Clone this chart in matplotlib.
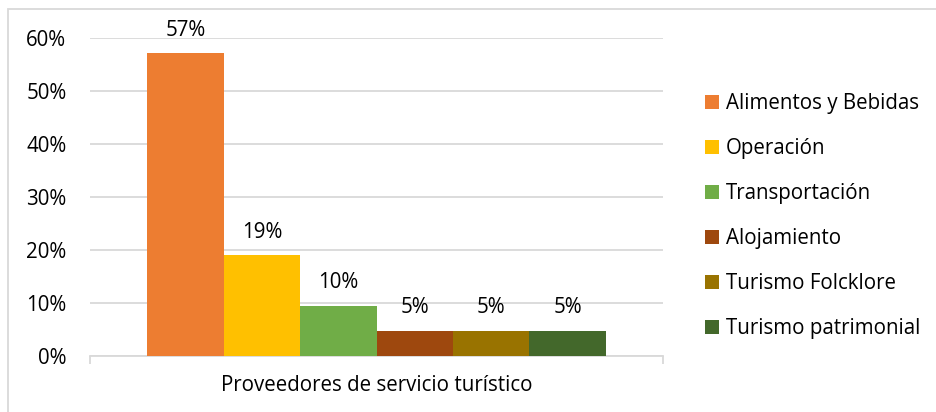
import matplotlib
matplotlib.use("Agg")
import matplotlib.pyplot as plt
from matplotlib.patches import Rectangle, Patch

plt.rcParams['font.family'] = ['Open Sans', 'DejaVu Sans']

category = "Proveedores de servicio turístico"
series = ["Alimentos y Bebidas", "Operación", "Transportación", "Alojamiento",
          "Turismo Folcklore", "Turismo patrimonial"]
values = [0.571, 0.190, 0.095, 0.048, 0.048, 0.048]
labels = ["57%", "19%", "10%", "5%", "5%", "5%"]
colors = ["#ED7D31", "#FFC000", "#70AD47", "#9E480E", "#997300", "#43682B"]
yticks = [0, 0.1, 0.2, 0.3, 0.4, 0.5, 0.6]
ytick_labels = ["0%", "10%", "20%", "30%", "40%", "50%", "60%"]

FS = 14.8
W, H = 936, 412
fig = plt.figure(figsize=(W / 100, H / 100), dpi=100)
fig.patches.append(Rectangle((8 / W, -0.1), 1.2, 1 - 9 / H + 0.1, transform=fig.transFigure,
                             fill=False, edgecolor="#D9D9D9", linewidth=1.3))
ax = fig.add_axes([90 / W, 1 - 356 / H, (663 - 90) / W, (356 - 38) / H])

n = len(series)
group_w = 0.8
bw = group_w / n
for i, (s, v, c, lab) in enumerate(zip(series, values, colors, labels)):
    x = -group_w / 2 + bw * (i + 0.5)
    ax.bar(x, v, width=bw, color=c, label=s, zorder=3)
    ax.annotate(lab, (x, v), xytext=(0, 12.5), textcoords="offset points",
                ha="center", va="baseline", fontsize=FS, color="#000000")

ax.set_xlim(-0.5, 0.5)
ax.set_ylim(0, 0.6)
ax.set_yticks(yticks)
ax.set_yticklabels(ytick_labels)
ax.tick_params(axis="y", length=0, pad=17, labelsize=FS)
ax.set_xticks([-0.5, 0.5])
ax.set_xticklabels(["", ""])
ax.tick_params(axis="x", length=6, color="#D9D9D9", width=1.3)
ax.text(0.5, -0.06, category, transform=ax.transAxes, ha="center", va="top", fontsize=FS)
ax.grid(axis="y", color="#D9D9D9", linewidth=1.3, zorder=0)
for sp in ["top", "right", "left"]:
    ax.spines[sp].set_visible(False)
ax.spines["bottom"].set_color("#D9D9D9")
ax.spines["bottom"].set_linewidth(1.3)

handles = [Patch(facecolor=c, label=s) for s, c in zip(series, colors)]
fig.legend(handles=handles, loc="center left", bbox_to_anchor=(705 / W, 1 - 216 / H),
           frameon=False, fontsize=FS, borderpad=0, borderaxespad=0,
           handlelength=0.68, handleheight=0.68, handletextpad=0.33, labelspacing=1.17)

fig.savefig("out.png", dpi=100)
